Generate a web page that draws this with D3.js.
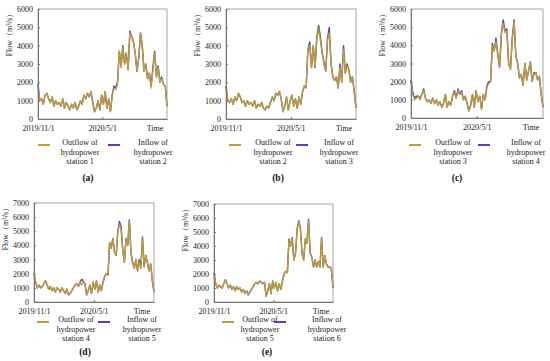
<!DOCTYPE html>
<html>
<head>
<meta charset="utf-8">
<script src="https://cdn.jsdelivr.net/npm/d3@7"></script>
<style>
  body { margin: 0; background: #fff; }
  svg { display: block; font-family: "Liberation Serif", "Times New Roman", serif; }
</style>
</head>
<body>
<svg width="550" height="361"></svg>
<script>
// sampling: one value every 5 days starting 2019/11/1
var startDate = "2019-11-01";
var stepDays = 5;
var endDate = "2020-10-31";

var xTickDates = ["2019-11-01", "2020-05-01"];
var xTickLabels = ["2019/11/1", "2020/5/1"];
var panelLetters = ["(a)", "(b)", "(c)", "(d)", "(e)"];
var yMaxes = [6000, 6000, 6000, 7000, 7000];
var outflowLabels = ["station 1", "station 2", "station 3", "station 4", "station 5"];
var inflowLabels = ["station 2", "station 3", "station 4", "station 5", "station 6"];

// (a)
var outflow1 = [1800,1000,1100,800,1300,1400,1100,900,1200,700,
  1000,800,900,700,1100,600,900,700,500,800,
  600,900,500,700,1000,800,1300,1100,1400,1200,
  1500,900,400,600,1000,500,1300,800,1500,600,
  1100,400,1300,1700,1600,1900,3700,2800,3900,3000,
  3600,2700,4700,4500,4200,3600,2600,3300,4700,4000,
  2600,3000,2200,2500,1700,2600,3600,2300,2800,2000,
  2200,1900,1800,700];
var inflow2 = [1900,1000,1100,800,1300,1400,1100,900,1200,700,
  1000,800,900,700,1100,600,900,700,500,800,
  600,900,500,700,1000,800,1300,1100,1400,1200,
  1500,900,400,600,1000,500,1300,800,1500,600,
  1100,400,1300,1800,1700,2000,3700,2900,4000,3000,
  3600,2700,4800,4500,4200,3600,2600,3300,4700,4000,
  2600,3000,2200,2500,1800,2800,3700,2300,2900,2000,
  2300,1900,1800,700];
// (b)
var outflow2 = [1800,1000,900,1100,800,1200,1000,1400,1200,900,
  1000,700,1000,800,900,700,1000,600,800,700,
  900,600,500,700,600,900,1200,1000,1400,1300,
  1500,1100,400,700,1200,500,1000,1300,700,1100,
  600,1200,800,1500,1800,1700,3800,4000,2800,4000,
  2800,4400,4900,4300,3600,3000,2600,4300,4700,3000,
  2300,2100,2300,1700,2800,2000,3800,2500,2900,2700,
  2000,2300,1500,600];
var inflow3 = [1800,1000,900,1100,800,1200,1000,1400,1200,900,
  1000,700,1000,800,900,700,1000,600,800,700,
  900,600,500,700,600,900,1200,1000,1400,1300,
  1500,1100,400,700,1200,500,1000,1300,700,1100,
  600,1200,800,1500,1800,1700,3800,4200,2800,4000,
  2800,4500,5100,4500,3600,3100,2600,4400,5000,3000,
  2300,2100,2300,1700,3000,2000,4000,2500,3000,2700,
  2000,2300,1500,600];
// (c)
var outflow3 = [2000,1300,1000,1100,1200,1000,1300,1500,1100,900,
  1000,800,1100,800,1000,700,900,600,800,1300,
  600,900,700,1200,1400,1100,1500,1300,1400,1000,
  1200,800,400,700,1300,600,1500,900,1200,500,
  1300,1000,1700,1900,2000,4000,3700,4200,3500,2800,
  4600,5200,4700,4800,3000,2700,4300,5300,3400,3000,
  2200,2400,1800,3000,2100,2600,3100,2000,2400,2500,
  2100,2300,1300,600];
var inflow4 = [2100,1400,1100,1200,1200,1100,1300,1600,1100,900,
  1000,800,1100,800,1000,700,900,600,800,1300,
  600,900,700,1200,1500,1100,1600,1300,1500,1000,
  1200,800,400,700,1300,600,1500,900,1200,500,
  1300,1000,1800,2000,2000,4100,3700,4400,3500,2800,
  4700,5400,4800,4900,3000,2700,4400,5400,3400,3000,
  2200,2400,1800,3000,2100,2600,3100,2000,2500,2500,
  2100,2300,1300,600];
// (d)
var outflow4 = [2000,1400,1000,1200,1000,1100,1300,1500,1200,900,
  1100,800,1000,700,1000,900,700,1000,800,600,
  900,500,600,800,1000,1200,1300,1100,1400,1200,
  1500,1300,500,800,1200,600,1400,900,1500,700,
  1200,800,1400,1800,2000,1900,4200,3800,4500,3500,
  3300,5000,5500,5100,3700,2800,4500,4000,5700,3500,
  2800,2400,3000,2200,2800,2400,4500,2500,3300,2800,
  2200,2700,1500,700];
var inflow5 = [2000,1400,1000,1200,1000,1100,1300,1500,1200,900,
  1100,800,1000,700,1000,900,700,1000,800,600,
  900,500,600,800,1000,1200,1300,1100,1400,1600,
  1500,1300,500,800,1200,600,1400,900,1500,700,
  1200,800,1400,1800,2000,1900,4200,3800,4500,3500,
  3300,5000,5700,5300,3700,2800,4500,4000,5800,3500,
  2800,2400,3000,2200,3000,2400,4600,2500,3300,2800,
  2200,2700,1500,700];
// (e)
var outflow5 = [2100,1300,1000,1200,1100,1000,1300,1600,1300,1000,
  1200,900,1100,800,1100,900,1000,700,900,600,
  800,500,700,900,1100,1300,1400,1300,1500,1400,
  1300,1400,400,800,1300,600,1500,1000,1400,800,
  1300,900,1500,2000,2200,2100,4400,4000,4500,3000,
  3500,5200,5700,5300,3500,3000,4500,4200,5800,3500,
  3200,2500,3000,2500,2900,2500,4500,2500,3300,2700,
  2500,2500,2400,1000];
var inflow6 = [2100,1300,1000,1200,1100,1000,1300,1600,1300,1000,
  1200,900,1100,800,1100,900,1000,700,900,600,
  800,500,700,900,1100,1300,1400,1300,1500,1400,
  1300,1400,400,800,1300,600,1500,1000,1400,800,
  1300,900,1500,2000,2200,2100,4500,4000,4600,3000,
  3500,5200,5800,5300,3500,3000,4500,4200,5900,3500,
  3200,2500,3000,2500,2900,2500,4600,2500,3300,2700,
  2500,2500,2400,1000];

var outflows = [outflow1, outflow2, outflow3, outflow4, outflow5];
var inflows = [inflow2, inflow3, inflow4, inflow5, inflow6];

var outColor = "#bd9d34";
var inColor = "#4a46c2";
var serif = "Liberation Serif, Times New Roman, serif";

// layout of each panel (plot box + legend anchors)
var boxes = [
  { l: 38, r: 167, t: 9, b: 119, sw1: 38, tx1: 80, sw2: 108, tx2: 153, lx: 88, ly: 145, cap: 181 },
  { l: 226, r: 356, t: 9, b: 119, sw1: 229, tx1: 273, sw2: 296, tx2: 339, lx: 278, ly: 145, cap: 181 },
  { l: 411, r: 543, t: 9, b: 118, sw1: 409, tx1: 453, sw2: 478, tx2: 526, lx: 457, ly: 145, cap: 181 },
  { l: 34, r: 154, t: 203, b: 302, sw1: 37, tx1: 76, sw2: 98, tx2: 142, lx: 85, ly: 322, cap: 355 },
  { l: 214, r: 333, t: 204, b: 302, sw1: 222, tx1: 260, sw2: 274, tx2: 327, lx: 267, ly: 322, cap: 355 }
];

var parse = d3.timeParse("%Y-%m-%d");
var t0 = parse(startDate);
var t1 = parse(endDate);
var svg = d3.select("svg");

boxes.forEach(function(bx, k) {
  var x = d3.scaleTime().domain([t0, t1]).range([bx.l, bx.r]);
  var y = d3.scaleLinear().domain([0, yMaxes[k]]).range([bx.b, bx.t]);
  var g = svg.append("g");

  function pts(arr) {
    return arr.map(function(v, i) { return { d: d3.timeDay.offset(t0, i * stepDays), v: v }; });
  }
  var line = d3.line()
    .x(function(d) { return x(d.d > t1 ? t1 : d.d); })
    .y(function(d) { return y(d.v); });

  // frame
  g.append("rect")
    .attr("x", bx.l).attr("y", bx.t)
    .attr("width", bx.r - bx.l).attr("height", bx.b - bx.t)
    .attr("fill", "none").attr("stroke", "#a8a8a8").attr("stroke-width", 1);

  g.append("path").datum(pts(inflows[k]))
    .attr("fill", "none").attr("stroke", inColor).attr("stroke-width", 1.4)
    .attr("stroke-linejoin", "round").attr("d", line);
  g.append("path").datum(pts(outflows[k]))
    .attr("fill", "none").attr("stroke", outColor).attr("stroke-width", 1.4)
    .attr("stroke-linejoin", "round").attr("d", line);

  var ya = g.append("g")
    .attr("transform", "translate(" + bx.l + ",0)")
    .call(d3.axisLeft(y).tickValues(d3.range(0, yMaxes[k] + 1, 1000))
      .tickFormat(d3.format("d"))
      .tickSizeInner(-2).tickSizeOuter(0).tickPadding(5));
  var xa = g.append("g")
    .attr("transform", "translate(0," + bx.b + ")")
    .call(d3.axisBottom(x).tickValues(xTickDates.map(parse))
      .tickFormat(function(d, i) { return xTickLabels[i]; })
      .tickSizeInner(-2).tickSizeOuter(0).tickPadding(6));
  [ya, xa].forEach(function(a) {
    a.attr("font-family", serif).attr("font-size", 8);
    a.select(".domain").attr("stroke", "#777");
    a.selectAll(".tick line").attr("stroke", "#777");
    a.selectAll("text").attr("fill", "#222");
  });

  g.append("text")
    .attr("x", bx.r - 12).attr("y", bx.b + 12)
    .attr("text-anchor", "middle").attr("font-size", 8).attr("fill", "#222")
    .text("Time");

  g.append("text")
    .attr("transform", "translate(" + (bx.l - 26) + "," + (bx.t + 1) + ") rotate(-90)")
    .attr("text-anchor", "end").attr("font-size", 8).attr("fill", "#222")
    .text("Flow（m³/s）");

  // legend
  [[bx.sw1, bx.tx1, outColor, "Outflow of", outflowLabels[k]],
   [bx.sw2, bx.tx2, inColor, "Inflow of", inflowLabels[k]]].forEach(function(it) {
    g.append("line")
      .attr("x1", it[0]).attr("x2", it[0] + 12)
      .attr("y1", bx.ly).attr("y2", bx.ly)
      .attr("stroke", it[2]).attr("stroke-width", 2);
    var tx = g.append("text").attr("text-anchor", "middle")
      .attr("font-size", 8).attr("fill", "#222");
    [it[3], "hydropower", it[4]].forEach(function(s, j) {
      tx.append("tspan").attr("x", it[1]).attr("y", bx.ly + j * 9.5).text(s);
    });
  });

  g.append("text")
    .attr("x", bx.lx).attr("y", bx.cap)
    .attr("text-anchor", "middle").attr("font-size", 9.5)
    .attr("font-weight", "bold").attr("fill", "#111")
    .text(panelLetters[k]);
});
</script>
</body>
</html>
